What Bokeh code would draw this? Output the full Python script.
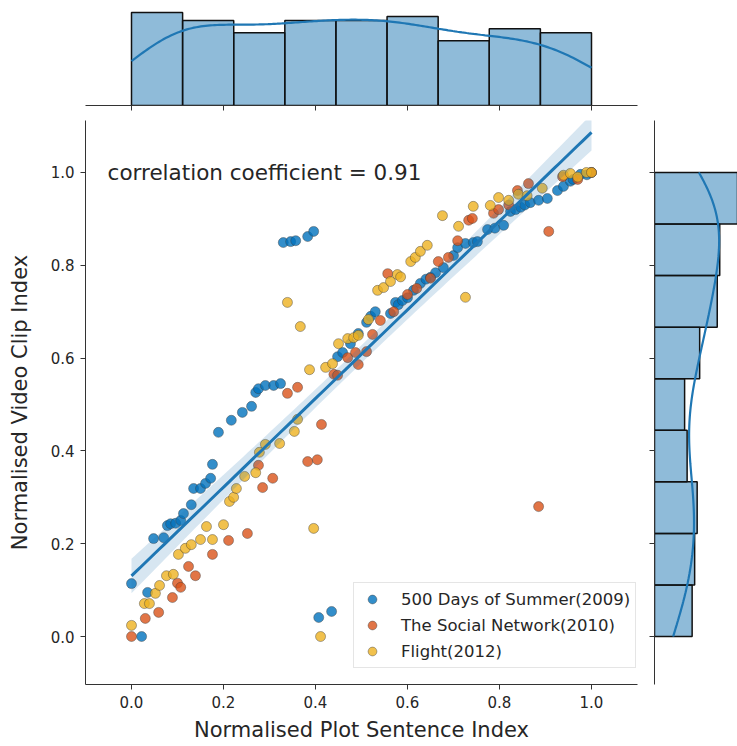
import numpy as np
from bokeh.plotting import figure
from bokeh.models import Range1d, FixedTicker, Legend, LegendItem, PrintfTickFormatter
from bokeh.layouts import column, row
from bokeh.embed import file_html
from bokeh.resources import INLINE
from bokeh.core.properties import value

# ---------------- data ----------------
series_names = ["500 Days of Summer(2009)", "The Social Network(2010)", "Flight(2012)"]

blue_x = [0.0, 0.022, 0.035, 0.048, 0.070, 0.078, 0.085, 0.096, 0.107, 0.113, 0.130, 0.135, 0.150,
          0.161, 0.172, 0.176, 0.189, 0.217, 0.241, 0.261, 0.270, 0.276, 0.291, 0.309, 0.324,
          0.330, 0.346, 0.357, 0.383, 0.396, 0.407, 0.435,
          0.448, 0.459, 0.476, 0.493, 0.511, 0.520, 0.530, 0.563, 0.574, 0.580, 0.589, 0.600, 0.613,
          0.628, 0.640, 0.650, 0.661, 0.678, 0.700, 0.709, 0.726, 0.743, 0.752, 0.774, 0.790,
          0.809, 0.824, 0.835, 0.846, 0.855, 0.867, 0.885, 0.904, 0.926, 0.939, 0.954, 0.960, 0.976,
          0.990, 1.0]
blue_y = [0.114, 0.0, 0.095, 0.211, 0.213, 0.239, 0.243, 0.244, 0.250, 0.265, 0.284, 0.319, 0.319,
          0.330, 0.341, 0.371, 0.440, 0.466, 0.483, 0.496, 0.526, 0.534, 0.541, 0.541, 0.545,
          0.849, 0.851, 0.853, 0.862, 0.873, 0.041, 0.054,
          0.603, 0.612, 0.631, 0.653, 0.677, 0.690, 0.700, 0.696, 0.720, 0.715, 0.724, 0.730, 0.746,
          0.761, 0.770, 0.774, 0.784, 0.795, 0.821, 0.838, 0.847, 0.849, 0.851, 0.877, 0.880,
          0.886, 0.916, 0.920, 0.925, 0.930, 0.935, 0.940, 0.944, 0.961, 0.970, 0.981, 0.985, 0.996,
          0.995, 1.0]

orange_x = [0.0, 0.030, 0.059, 0.089, 0.100, 0.107, 0.124, 0.139, 0.176, 0.211, 0.252, 0.285, 0.307,
            0.276, 0.383, 0.404, 0.413, 0.339, 0.361, 0.440, 0.448, 0.470, 0.487, 0.493, 0.511, 0.524,
            0.541, 0.557, 0.570, 0.600, 0.620, 0.650, 0.667, 0.689, 0.709, 0.733, 0.741, 0.787,
            0.798, 0.820, 0.839, 0.863, 0.885, 0.907, 0.937, 0.970, 1.0]
orange_y = [0.0, 0.039, 0.052, 0.084, 0.115, 0.106, 0.151, 0.131, 0.177, 0.207, 0.222, 0.321, 0.341,
            0.369, 0.377, 0.381, 0.457, 0.524, 0.537, 0.565, 0.563, 0.601, 0.612, 0.586, 0.614, 0.651,
            0.681, 0.782, 0.700, 0.737, 0.750, 0.772, 0.808, 0.817, 0.853, 0.897, 0.901, 0.912,
            0.920, 0.930, 0.961, 0.976, 0.280, 0.873, 0.991, 0.985, 1.0]

yellow_x = [0.0, 0.028, 0.039, 0.052, 0.061, 0.076, 0.091, 0.102, 0.117, 0.130, 0.150, 0.176,
            0.163, 0.200, 0.213, 0.222, 0.228, 0.246, 0.270, 0.278, 0.291, 0.322, 0.354, 0.361,
            0.339, 0.367, 0.396, 0.411, 0.726,
            0.387, 0.422, 0.437, 0.450, 0.470, 0.483, 0.493, 0.515, 0.535, 0.548, 0.563, 0.578,
            0.585, 0.607, 0.617, 0.628, 0.643, 0.676, 0.711, 0.743, 0.780, 0.798, 0.820, 0.841,
            0.860, 0.893, 0.939, 0.954, 0.970, 0.989, 1.0]
yellow_y = [0.024, 0.071, 0.071, 0.093, 0.110, 0.131, 0.134, 0.177, 0.190, 0.198, 0.209, 0.209,
            0.237, 0.241, 0.291, 0.300, 0.319, 0.345, 0.353, 0.397, 0.414, 0.416, 0.442, 0.468,
            0.720, 0.668, 0.233, 0.0, 0.731,
            0.575, 0.580, 0.588, 0.631, 0.642, 0.644, 0.649, 0.683, 0.746, 0.752, 0.765, 0.780,
            0.775, 0.808, 0.817, 0.830, 0.843, 0.907, 0.884, 0.927, 0.929, 0.946, 0.940, 0.953,
            0.950, 0.966, 0.994, 0.998, 0.990, 1.0, 1.0]

corr_label = "correlation coefficient = 0.91"
tick_values = [0.0, 0.2, 0.4, 0.6, 0.8, 1.0]
n_bins = 9

# ---------------- styling ----------------
C0 = "#1f77b4"
colors = ["#0072BD", "#D95319", "#EDB120"]
FONT = "DejaVu Sans"
TXT = "#262626"
SPINE = "#333333"

all_x = np.array(blue_x + orange_x + yellow_x, dtype=float)
all_y = np.array(blue_y + orange_y + yellow_y, dtype=float)


def kde_curve(vals, lo, hi, bw_scale, n=200):
    vals = np.asarray(vals, dtype=float)
    h = vals.std(ddof=1) * len(vals) ** (-1 / 5)
    g = np.linspace(lo, hi, n)
    d = np.exp(-0.5 * ((g[:, None] - vals[None, :]) / h) ** 2).sum(axis=1) / (len(vals) * h * np.sqrt(2 * np.pi))
    return g, d * len(vals) * bw_scale


def bare_axis(ax):
    ax.ticker = FixedTicker(ticks=tick_values)
    ax.major_label_overrides = {t: "" for t in tick_values}
    ax.minor_tick_line_color = None
    ax.major_tick_out = 5
    ax.major_tick_in = 0
    ax.major_label_standoff = 0
    ax.axis_line_color = SPINE
    ax.major_tick_line_color = SPINE


# ---------------- main figure ----------------
x_range = Range1d(-0.1, 1.1)
y_range = Range1d(-0.1034, 1.112)

main = figure(width=642, height=626, x_range=x_range, y_range=y_range,
              output_backend="svg", toolbar_location=None,
              min_border_left=85, min_border_right=5, min_border_top=0, min_border_bottom=62)
main.outline_line_color = None
main.grid.visible = False

items = []
for xs, ys, c, name in zip([blue_x, orange_x, yellow_x], [blue_y, orange_y, yellow_y], colors, series_names):
    r = main.scatter(xs, ys, size=10, fill_color=c, fill_alpha=0.8,
                     line_color="#3a3a3a", line_alpha=0.6, line_width=0.7)
    items.append(LegendItem(label=name, renderers=[r]))

# regression with confidence band
slope, intercept = np.polyfit(all_x, all_y, 1)
gx = np.linspace(all_x.min(), all_x.max(), 100)
fit = intercept + slope * gx
resid = all_y - (intercept + slope * all_x)
n = len(all_x)
s = np.sqrt((resid ** 2).sum() / (n - 2))
se = s * np.sqrt(1 / n + (gx - all_x.mean()) ** 2 / ((all_x - all_x.mean()) ** 2).sum())
main.varea(x=gx, y1=fit - 1.97 * se, y2=fit + 1.97 * se, fill_color=C0, fill_alpha=0.18)
main.line(gx, fit, line_color=C0, line_width=3)

main.text(x=[-0.052], y=[1.0], text=[corr_label], text_font=value(FONT), text_font_size="21.5px",
          text_color=TXT, text_baseline="middle", text_align="left")

for ax in (main.xaxis[0], main.yaxis[0]):
    ax.ticker = FixedTicker(ticks=tick_values)
    ax.formatter = PrintfTickFormatter(format="%.1f")
    ax.minor_tick_line_color = None
    ax.major_tick_out = 5
    ax.major_tick_in = 0
    ax.axis_line_color = SPINE
    ax.major_tick_line_color = SPINE
    ax.major_label_text_font = FONT
    ax.major_label_text_font_size = "15px"
    ax.major_label_text_color = TXT
    ax.axis_label_text_font = FONT
    ax.axis_label_text_font_size = "21px"
    ax.axis_label_text_font_style = "normal"
    ax.axis_label_text_color = TXT
main.xaxis.axis_label = "Normalised Plot Sentence Index"
main.yaxis.axis_label = "Normalised Video Clip Index"
main.xaxis.major_label_standoff = 6
main.yaxis.major_label_standoff = 6
main.xaxis.axis_label_standoff = 7
main.yaxis.axis_label_standoff = 16

legend = Legend(items=items, location=(268, 16))
legend.label_text_font = FONT
legend.label_text_font_size = "16.5px"
legend.label_text_color = TXT
legend.border_line_color = "#cccccc"
legend.border_line_width = 1
legend.background_fill_alpha = 0.85
legend.glyph_width = 26
legend.glyph_height = 22
legend.label_height = 22
legend.spacing = 4
legend.padding = 5
legend.label_standoff = 16
legend.margin = 0
main.add_layout(legend)

# ---------------- top marginal ----------------
cx, ex = np.histogram(all_x, bins=n_bins, range=(all_x.min(), all_x.max()))
bwx = ex[1] - ex[0]
top = figure(width=642, height=120, x_range=x_range, y_range=Range1d(0, cx.max() * 105 / 93),
             output_backend="svg", toolbar_location=None,
             min_border_left=85, min_border_right=5, min_border_top=0, min_border_bottom=15)
top.outline_line_color = None
top.grid.visible = False
top.vbar(x=(ex[:-1] + ex[1:]) / 2, width=bwx, top=cx, bottom=0,
         fill_color=C0, fill_alpha=0.5, line_color="#111111", line_width=1.5)
kx, kdx = kde_curve(all_x, all_x.min(), all_x.max(), bwx)
top.line(kx, kdx, line_color=C0, line_width=2.2)
top.yaxis.visible = False
bare_axis(top.xaxis[0])

# ---------------- right marginal ----------------
cy, ey = np.histogram(all_y, bins=n_bins, range=(all_y.min(), all_y.max()))
bwy = ey[1] - ey[0]
right = figure(width=95, height=626, y_range=y_range, x_range=Range1d(0, cy.max() * 0.894),
               output_backend="svg", toolbar_location=None,
               min_border_left=12, min_border_right=0, min_border_top=0, min_border_bottom=62)
right.outline_line_color = None
right.grid.visible = False
right.hbar(y=(ey[:-1] + ey[1:]) / 2, height=bwy, left=0, right=cy,
           fill_color=C0, fill_alpha=0.5, line_color="#111111", line_width=1.5)
ky, kdy = kde_curve(all_y, all_y.min(), all_y.max(), bwy)
right.line(kdy, ky, line_color=C0, line_width=2.2)
right.xaxis.visible = False
bare_axis(right.yaxis[0])

layout = column(top, row(main, right))
open("out.html", "w").write(file_html(layout, INLINE))
